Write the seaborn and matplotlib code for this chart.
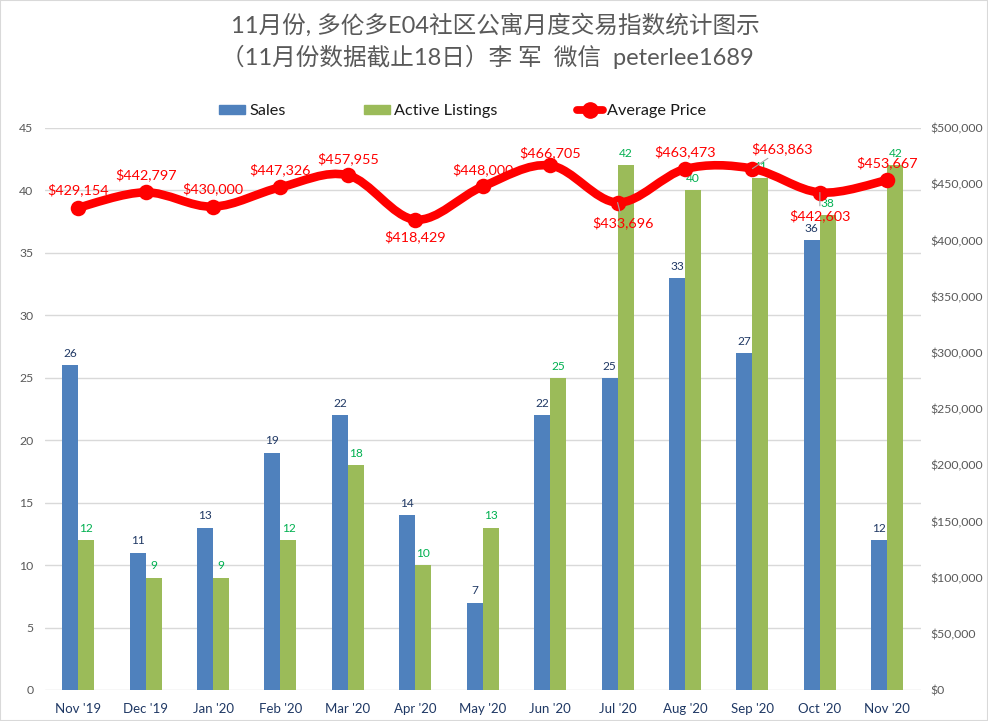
import matplotlib
matplotlib.use("Agg")
import matplotlib.pyplot as plt
from matplotlib.lines import Line2D
from matplotlib.patches import Patch, PathPatch, Rectangle
from matplotlib.path import Path
from matplotlib.ticker import FuncFormatter
import pandas as pd
import seaborn as sns

months = ["Nov '19", "Dec '19", "Jan '20", "Feb '20", "Mar '20", "Apr '20", "May '20",
          "Jun '20", "Jul '20", "Aug '20", "Sep '20", "Oct '20", "Nov '20"]
sales = [26, 11, 13, 19, 22, 14, 7, 22, 25, 33, 27, 36, 12]
listings = [12, 9, 9, 12, 18, 10, 13, 25, 42, 40, 41, 38, 42]
avg_price = [429154, 442797, 430000, 447326, 457955, 418429, 448000,
             466705, 433696, 463473, 463863, 442603, 453667]

title_lines = ["11月份, 多伦多E04社区公寓月度交易指数统计图示",
               "（11月份数据截止18日）李 军  微信  peterlee1689"]

# label offsets in pixels, price points only
price_offsets = [(0, 18), (0, 18), (0, 18), (0, 17), (0, 17), (0, -17), (0, 17),
                 (0, 13), (5, -20), (0, 17), (30, 20), (0, -23), (0, 17)]
leader_lines = ["$433,696", "$463,863", "$442,603"]

BLUE = "#4F81BD"
GREEN = "#9BBB59"
RED = "#FF0000"
GRID = "#D9D9D9"
W, H = 988, 721

sns.set_theme(style="white")
plt.rcParams["font.family"] = ["Lato", "Noto Sans CJK SC", "DejaVu Sans"]


def smooth_path(values):
    # same bezier smoothing a spreadsheet line uses
    n = len(values)
    pts = list(zip(range(n), values))
    verts = [pts[0]]
    codes = [Path.MOVETO]
    for i in range(n - 1):
        p0 = pts[max(i - 1, 0)]
        p1 = pts[i]
        p2 = pts[i + 1]
        p3 = pts[min(i + 2, n - 1)]
        c1 = (p1[0] + (p2[0] - p0[0]) / 6, p1[1] + (p2[1] - p0[1]) / 6)
        c2 = (p2[0] - (p3[0] - p1[0]) / 6, p2[1] - (p3[1] - p1[1]) / 6)
        verts += [c1, c2, p2]
        codes += [Path.CURVE4] * 3
    return Path(verts, codes)


fig = plt.figure(figsize=(W / 100, H / 100), dpi=100)
ax = fig.add_axes([44.5 / W, (H - 690) / H, (921 - 44.5) / W, 562 / H])

df = pd.DataFrame({"month": months * 2,
                   "value": sales + listings,
                   "series": ["Sales"] * 13 + ["Active Listings"] * 13})
sns.barplot(data=df, x="month", y="value", hue="series", order=months,
            palette={"Sales": BLUE, "Active Listings": GREEN},
            width=0.475, gap=0, saturation=1, linewidth=0, legend=False, ax=ax, zorder=2)

ax.set_xlim(-0.5, 12.5)
ax.set_ylim(0, 45)
ax.set_yticks(range(0, 50, 5))
ax.set_xlabel("")
ax.set_ylabel("")
ax.grid(axis="y", color=GRID, lw=1, zorder=0)
ax.set_axisbelow(True)
for s in ax.spines.values():
    s.set_visible(False)
ax.tick_params(axis="x", length=0, labelsize=9.5, labelcolor="#1F3864", pad=9.5)
ax.tick_params(axis="y", length=0, labelsize=8.8, labelcolor="#595959", pad=8)

for container, color in zip(ax.containers, ["#1F3864", "#00B050"]):
    ax.bar_label(container, padding=4.5, fontsize=8.6, color=color)

ax2 = ax.twinx()
ax2.set_xlim(-0.5, 12.5)
ax2.set_ylim(0, 500000)
ax2.set_yticks(range(0, 550000, 50000))
ax2.yaxis.set_major_formatter(FuncFormatter(lambda v, _: f"${v:,.0f}"))
ax2.grid(False)
for s in ax2.spines.values():
    s.set_visible(False)
ax2.tick_params(axis="y", length=0, labelsize=8.8, labelcolor="#595959", pad=7)

ax2.add_patch(PathPatch(smooth_path(avg_price), fill=False, ec=RED, lw=6.2,
                        capstyle="round", zorder=3))
sns.scatterplot(x=list(range(13)), y=avg_price, color=RED, s=125, linewidth=0,
                legend=False, ax=ax2, zorder=4)
ax2.set_xlabel("")
ax2.set_ylabel("")

for i, price in enumerate(avg_price):
    text = f"${price:,}"
    arrow = None
    if text in leader_lines:
        arrow = dict(arrowstyle="-", color="#A6A6A6", lw=0.8, shrinkA=0, shrinkB=0)
    ax2.annotate(text, (i, price), xytext=price_offsets[i], textcoords="offset pixels",
                 ha="center", va="center", fontsize=10.4, color=RED,
                 arrowprops=arrow, zorder=5)

fig.text(495 / W, 1 - 25 / H, title_lines[0], ha="center", va="center", fontsize=17,
         color="#595959")
fig.text(487 / W, 1 - 57 / H, title_lines[1], ha="center", va="center", fontsize=17,
         color="#595959")

handles = [Patch(color=BLUE, label="Sales"),
           Patch(color=GREEN, label="Active Listings"),
           Line2D([0], [0], color=RED, lw=5.6, marker="o", ms=11, label="Average Price")]
fig.legend(handles=handles, ncol=3, loc="center", bbox_to_anchor=(462.5 / W, 1 - 111 / H),
           frameon=False, fontsize=11.7, handlelength=1.6, handleheight=0.5,
           handletextpad=0.25, columnspacing=4.85, labelcolor="#1A1A1A")

# thin frame round the picture
fig.add_artist(Rectangle((0, 0), 1, 1, transform=fig.transFigure, fill=False,
                         ec="#D9D9D9", lw=1.5))

fig.savefig("out.png", dpi=100)
